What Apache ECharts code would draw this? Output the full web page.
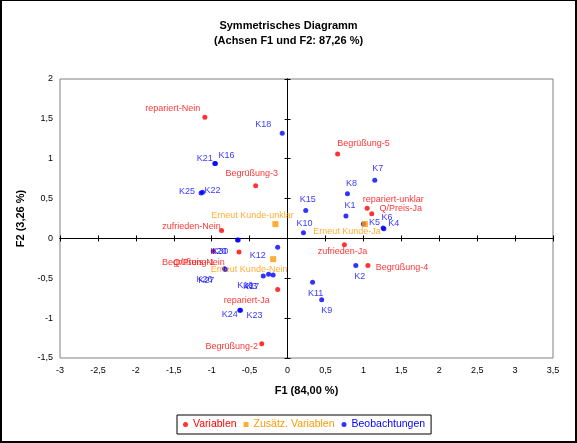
<!DOCTYPE html>
<html><head><meta charset="utf-8">
<script src="https://cdn.jsdelivr.net/npm/echarts@6/dist/echarts.min.js"></script>
<style>
html,body{margin:0;padding:0;background:#fff;}
#chart{position:absolute;left:0;top:0;width:577px;height:443px;}
#frame{position:absolute;left:0;top:0;width:577px;height:443px;box-sizing:border-box;border-top:1px solid #000;border-left:2px solid #000;border-right:2px solid #000;border-bottom:2px solid #000;pointer-events:none;}
</style></head><body>
<div id="chart"></div><div id="frame"></div>
<script>
// ---- data ----
const varNames = ['repariert-Nein','Begrüßung-3','zufrieden-Nein','Begrüßung-1','Q/Preis-Nein','repariert-Ja','Begrüßung-2','Begrüßung-5','repariert-unklar','Q/Preis-Ja','zufrieden-Ja','Begrüßung-4'];
const varF1 = [-1.09,-0.42,-0.87,-0.98,-0.64,-0.13,-0.34,0.66,1.05,1.11,0.75,1.06];
const varF2 = [1.52,0.66,0.10,-0.16,-0.17,-0.64,-1.32,1.06,0.38,0.31,-0.08,-0.34];

const supNames = ['Erneut Kunde-unklar','Erneut Kunde-Nein','Erneut Kunde-Ja'];
const supF1 = [-0.16,-0.19,1.02];
const supF2 = [0.18,-0.26,0.18];

const obsNames = ['K18','K21','K16','K25','K22','K15','K10','K20','K30','K12','K26','K27','K19','K3','K17','K24','K23','K7','K8','K1','K5','K6','K4','K2','K11','K9'];
const obsF1 = [-0.07,-0.96,-0.95,-1.14,-1.12,0.24,0.21,-0.66,-0.65,-0.13,-0.83,-0.82,-0.32,-0.25,-0.19,-0.63,-0.62,1.15,0.79,0.77,1.00,1.26,1.27,0.90,0.33,0.45];
const obsF2 = [1.32,0.94,0.94,0.57,0.58,0.35,0.07,-0.02,-0.02,-0.11,-0.38,-0.39,-0.47,-0.45,-0.46,-0.90,-0.90,0.73,0.56,0.28,0.18,0.13,0.12,-0.34,-0.55,-0.77];

const seriesNames = ['Variablen','Zusätz. Variablen','Beobachtungen'];
const xRange = {min:-3, max:3.5, step:0.5};
const yRange = {min:-1.5, max:2, step:0.5};

// ---- label placement (pixels, relative to the point) ----
const labelOffset = {
 'repariert-Nein':[-32,-9],'Begrüßung-3':[-4,-12],'zufrieden-Nein':[-30,-4],'Begrüßung-1':[-25,11],
 'Q/Preis-Nein':[-40,11],'repariert-Ja':[-31,11],'Begrüßung-2':[-30,3],'Begrüßung-5':[26,-10],
 'repariert-unklar':[26,-9],'Q/Preis-Ja':[29,-5],'zufrieden-Ja':[-2,7],'Begrüßung-4':[34,2],
 'Erneut Kunde-unklar':[-23,-9],'Erneut Kunde-Nein':[-24,10],'Erneut Kunde-Ja':[-18,7],
 'K18':[-19,-9],'K21':[-10,-5],'K16':[11,-8],'K25':[-14,-1],'K22':[10,-2],'K15':[2,-11],'K10':[1,-9],
 'K20':[-19,11],'K30':[-18,11],'K12':[-20,8],'K26':[-20,11],'K27':[-19,11],'K19':[-18,10],'K3':[-17,12],
 'K17':[-22,11],'K24':[-10,4],'K23':[14,5],'K7':[3,-12],'K8':[4,-10],'K1':[4,-11],'K5':[11,-2],
 'K6':[4,-11],'K4':[10,-5],'K2':[4,11],'K11':[3,11],'K9':[5,11]
};

const FONT = 'Liberation Sans, Arial, sans-serif';
const colors = {'Variablen':'#FF0000','Zusätz. Variablen':'#FF9900','Beobachtungen':'#0000FF'};
const fmt = v => String(v).replace('.', ',');

function mk(names, xs, ys){
  return names.map((n,i)=>({name:n, value:[xs[i], ys[i]], label:{offset:labelOffset[n] || [0,-10]}}));
}
function sc(name, data, symbol, size){
  return {type:'scatter', name:name, data:data, symbol:symbol, symbolSize:size,
    itemStyle:{color:colors[name]}, emphasis:{disabled:true},
    label:{show:true, position:'inside', formatter:'{b}', color:colors[name], fontFamily:FONT, fontSize:9, align:'center', verticalAlign:'middle', textBorderWidth:0}};
}

const base = {type:'value', splitLine:{show:false}};
function zeroAxis(extra, range, pos, inside){
  return Object.assign({}, base, range, {position:pos, axisLine:{show:true, onZero:true, lineStyle:{color:'#000', width:1}},
    axisTick:{show:true, inside:inside, length:3, lineStyle:{color:'#000', width:1}}, axisLabel:{show:false}}, extra);
}
const xr = {min:xRange.min, max:xRange.max, interval:xRange.step};
const yr = {min:yRange.min, max:yRange.max, interval:yRange.step};

const chart = echarts.init(document.getElementById('chart'), null, {renderer:'canvas'});
chart.setOption({
  animation:false,
  title:{text:'Symmetrisches Diagramm\n(Achsen F1 und F2: 87,26 %)', left:'center', top:13,
    textStyle:{fontFamily:FONT, fontSize:11, fontWeight:'bold', lineHeight:15, color:'#000'}},
  grid:{left:60, right:24, top:79, bottom:85, show:true, borderColor:'#808080', borderWidth:1, backgroundColor:'transparent'},
  legend:{left:177, top:415, borderColor:'#000', borderWidth:1, borderRadius:0, padding:[4,6,4,6], itemGap:7, itemWidth:5, itemHeight:5,
    textStyle:{fontFamily:FONT, fontSize:10.5},
    data:seriesNames.map((n,i)=>({name:n, icon: i===1?'rect':'circle', textStyle:{color:colors[n]}}))},
  xAxis:[
    Object.assign({}, base, xr, {position:'bottom', axisLine:{show:false, onZero:false}, axisTick:{show:false},
      axisLabel:{fontFamily:FONT, fontSize:9, color:'#000', margin:8, formatter:fmt},
      name:'F1 (84,00 %)', nameLocation:'middle', nameGap:27,
      nameTextStyle:{fontFamily:FONT, fontSize:11, fontWeight:'bold', color:'#000'}}),
    zeroAxis({}, xr, 'top', false),
    zeroAxis({}, xr, 'top', true)
  ],
  yAxis:[
    Object.assign({}, base, yr, {position:'left', axisLine:{show:false, onZero:false}, axisTick:{show:false},
      axisLabel:{fontFamily:FONT, fontSize:9, color:'#000', margin:7, formatter:fmt},
      name:'F2 (3,26 %)', nameLocation:'middle', nameGap:31,
      nameTextStyle:{fontFamily:FONT, fontSize:11, fontWeight:'bold', color:'#000'}}),
    zeroAxis({}, yr, 'right', false),
    zeroAxis({}, yr, 'right', true)
  ],
  series:[
    sc('Beobachtungen', mk(obsNames, obsF1, obsF2), 'circle', 5),
    sc('Zusätz. Variablen', mk(supNames, supF1, supF2), 'rect', 6),
    sc('Variablen', mk(varNames, varF1, varF2), 'circle', 5)
  ]
});
</script>
</body></html>
